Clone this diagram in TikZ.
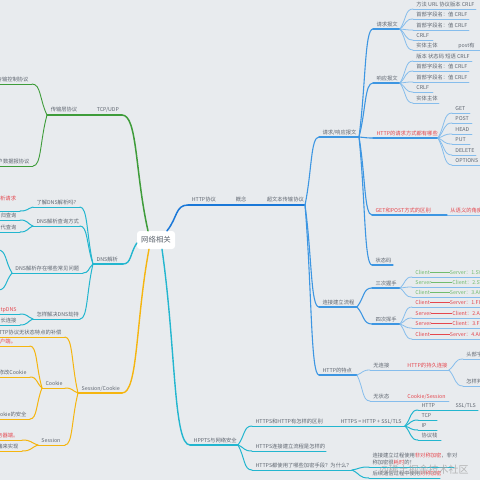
\documentclass[tikz,border=0pt]{standalone}
\usepackage{fontspec}
\newfontfamily\cjk{Noto Sans CJK SC}
\usetikzlibrary{calc}
\definecolor{paper}{HTML}{E8EBEE}
\definecolor{txgray}{HTML}{5F6670}
\definecolor{txhotc}{HTML}{E5474E}
\definecolor{txokc}{HTML}{72BC6E}
\definecolor{mmgreen}{HTML}{3E9C3A}
\definecolor{mmblue}{HTML}{1A78D8}
\definecolor{mmbluemid}{HTML}{3D96E2}
\definecolor{mmbluelt}{HTML}{86BDEC}
\definecolor{mmcyan}{HTML}{23B6CF}
\definecolor{mmorange}{HTML}{F5B50F}
\tikzset{
  tx/.style={anchor=south west,inner xsep=3pt,inner ysep=1.5pt,text depth=0.8pt,text=txgray,font=\cjk\fontsize{5.3}{7}\selectfont},
  txr/.style={tx,anchor=south east},
  txhot/.style={text=txhotc},
  txok/.style={text=txokc},
  rootbox/.style={fill=white,rounded corners=3pt,minimum width=38pt,minimum height=18pt,text=txgray,font=\cjk\fontsize{7.4}{8}\selectfont},
  mm/.style={to path={let \p1=(\tikztostart), \p2=(\tikztotarget) in
      .. controls ($(\p1)!0.5!(\p2)$) and ({\x2+0.6*(\x1-\x2)},\y2) .. (\tikztotarget)}},
  brG/.style={mmgreen,line width=1.5pt,line cap=round},
  lfG/.style={mmgreen,line width=0.9pt,line cap=round},
  brB/.style={mmblue,line width=1.5pt,line cap=round},
  midB/.style={mmbluemid,line width=1.1pt,line cap=round},
  lfB/.style={mmbluelt,line width=0.8pt,line cap=round},
  brC/.style={mmcyan,line width=1.4pt,line cap=round},
  lfC/.style={mmcyan,line width=1pt,line cap=round},
  brO/.style={mmorange,line width=1.4pt,line cap=round},
  lfO/.style={mmorange,line width=1pt,line cap=round},
}
\begin{document}
\begin{tikzpicture}[x=1pt,y=-1pt]
  \useasboundingbox (0,0) rectangle (480,480);
  \clip (0,0) rectangle (480,480);
  \fill[paper] (0,0) rectangle (480,480);
  \node[rootbox] (root) at (156,240) {网络相关};

  % ---- TCP/UDP (green) ----
  \draw[brG] (93,115) node[tx] (tcp) {TCP/UDP} -- (122,115) coordinate (tcpE);
  \draw[brG] (47,115) node[tx] (trans) {传输层协议} -- (86,115);
  \draw[brG] (86,115) -- (tcp.south west);
  \draw[brG] ([xshift=-8pt]root.north) to[mm] (tcpE);
  \draw[lfG] (-8,84) -- (32,84) coordinate (tcpL1) node[txr] {传输控制协议};
  \draw[lfG] (-8,166) -- (33,166) coordinate (tcpL2) node[txr] {用户数据报协议};
  \draw[lfG] (trans.south west) to[mm] (tcpL1);
  \draw[lfG] (trans.south west) to[mm] (tcpL2);

  % ---- HTTP (blue) ----
  \draw[brB] (188,205) node[tx] (http) {HTTP协议} -- (224,205) coordinate (httpE);
  \draw[brB] (232,205) node[tx] (concept) {概念} -- (254,205) coordinate (conceptE);
  \draw[brB] (263,205) node[tx] (hyper) {超文本传输协议} -- (305,205) coordinate (hyperE);
  \draw[brB] ([xshift=11pt]root.north) to[mm] (http.south west);
  \draw[brB] (httpE) -- (concept.south west);
  \draw[brB] (conceptE) -- (hyper.south west);

  \draw[midB] (319,137) node[tx] (reqres) {请求/响应报文} -- (359,137) coordinate (reqresE);
  \draw[midB] (319,307) node[tx] (conn) {连接建立流程} -- (357,307) coordinate (connE);
  \draw[midB] (319,375) node[tx] (feat) {HTTP的特点} -- (357,375) coordinate (featE);
  \foreach \k in {reqres,conn,feat} \draw[midB] (hyperE) to[mm] (\k.south west);

  \draw[midB] (373,29) node[tx] (reqmsg) {请求报文} -- (400,29) coordinate (reqmsgE);
  \draw[midB] (373,83) node[tx] (resmsg) {响应报文} -- (400,83) coordinate (resmsgE);
  \draw[midB] (373,138) node[tx,txhot] (meth) {HTTP的请求方式都有哪些} -- (438,138) coordinate (methE);
  \draw[midB] (372,215) node[tx,txhot] (getpost) {GET和POST方式的区别} -- (436,215) coordinate (getpostE);
  \draw[midB] (372,265) node[tx] (status) {状态码} -- (393,265);
  \foreach \k in {reqmsg,resmsg,meth,getpost,status} \draw[midB] (reqresE) to[mm] (\k.south west);
  \draw[lfB] (447,215) node[tx,txhot] (gpsem) {从语义的角度} -- (482,215);
  \draw[midB] (getpostE) -- (gpsem.south west);

  \draw[lfB] (413,9) node[tx] (rq1) {方法 URL 协议版本 CRLF} -- (476,9);
  \draw[lfB] (413,19) node[tx] (rq2) {首部字段名：值 CRLF} -- (469,19);
  \draw[lfB] (413,30) node[tx] (rq3) {首部字段名：值 CRLF} -- (469,30);
  \draw[lfB] (413,40) node[tx] (rq4) {CRLF} -- (433,40);
  \draw[lfB] (413,50) node[tx] (rq5) {实体主体} -- (446,50) coordinate (rq5E);
  \draw[lfB] (455,50) node[tx] (rq6) {post有} -- (482,50);
  \draw[lfB] (rq5E) -- (rq6.south west);
  \foreach \k in {1,...,5} \draw[lfB] (reqmsgE) to[mm] (rq\k.south west);

  \draw[lfB] (413,61) node[tx] (rs1) {版本 状态码 短语 CRLF} -- (472,61);
  \draw[lfB] (413,71) node[tx] (rs2) {首部字段名：值 CRLF} -- (469,71);
  \draw[lfB] (413,82) node[tx] (rs3) {首部字段名：值 CRLF} -- (469,82);
  \draw[lfB] (413,92) node[tx] (rs4) {CRLF} -- (433,92);
  \draw[lfB] (413,103) node[tx] (rs5) {实体主体} -- (439,103);
  \foreach \k in {1,...,5} \draw[lfB] (resmsgE) to[mm] (rs\k.south west);

  \draw[lfB] (452,113) node[tx] (mt1) {GET} -- (470,113);
  \draw[lfB] (452,123) node[tx] (mt2) {POST} -- (472,123);
  \draw[lfB] (452,134) node[tx] (mt3) {HEAD} -- (472,134);
  \draw[lfB] (452,144) node[tx] (mt4) {PUT} -- (470,144);
  \draw[lfB] (452,155) node[tx] (mt5) {DELETE} -- (476,155);
  \draw[lfB] (452,165) node[tx] (mt6) {OPTIONS} -- (480,165);
  \foreach \k in {1,...,6} \draw[lfB] (methE) to[mm] (mt\k.south west);

  % handshakes
  \draw[midB] (372,288) node[tx] (shk) {三次握手} -- (400,288) coordinate (shkE);
  \draw[midB] (372,324) node[tx] (wav) {四次挥手} -- (400,324) coordinate (wavE);
  \foreach \k in {shk,wav} \draw[midB] (connE) to[mm] (\k.south west);
  \draw[lfB] (412,277) node[tx,txok] (shk1) {Client\rule[1.8pt]{20pt}{0.45pt}Server：1.SYN} -- (482,277);
  \draw[lfB] (412,287) node[tx,txok] (shk2) {Server\rule[1.8pt]{21pt}{0.45pt}Client：2.SYN} -- (482,287);
  \draw[lfB] (412,297) node[tx,txok] (shk3) {Client\rule[1.8pt]{20pt}{0.45pt}Server：3.ACK} -- (482,297);
  \foreach \k in {1,2,3} \draw[lfB] (shkE) to[mm] (shk\k.south west);
  \draw[lfB] (412,307) node[tx,txhot] (wav1) {Client\rule[1.8pt]{20pt}{0.45pt}Server：1.FIN} -- (482,307);
  \draw[lfB] (412,318) node[tx,txhot] (wav2) {Server\rule[1.8pt]{21pt}{0.45pt}Client：2.ACK} -- (482,318);
  \draw[lfB] (412,328) node[tx,txhot] (wav3) {Server\rule[1.8pt]{21pt}{0.45pt}Client：3.FIN} -- (482,328);
  \draw[lfB] (412,339) node[tx,txhot] (wav4) {Client\rule[1.8pt]{20pt}{0.45pt}Server：4.ACK} -- (482,339);
  \foreach \k in {1,...,4} \draw[lfB] (wavE) to[mm] (wav\k.south west);

  % features
  \draw[lfB] (370,370) node[tx] (nolink) {无连接} -- (390,370) coordinate (nolinkE);
  \draw[lfB] (404,370) node[tx,txhot] (keep) {HTTP的持久连接} -- (449,370) coordinate (keepE);
  \draw[lfB] (463,359) node[tx] (keep1) {头部字段} -- (482,359);
  \draw[lfB] (463,386) node[tx] (keep2) {怎样判断} -- (482,386);
  \draw[lfB] (370,401) node[tx] (nostate) {无状态} -- (390,401) coordinate (nostateE);
  \draw[lfB] (404,401) node[tx,txhot] (cksess) {Cookie/Session} -- (449,401);
  \foreach \k in {nolink,nostate} \draw[lfB] (featE) to[mm] (\k.south west);
  \draw[lfB] (nolinkE) -- (keep.south west);
  \draw[lfB] (nostateE) -- (cksess.south west);
  \foreach \k in {keep1,keep2} \draw[lfB] (keepE) to[mm] (\k.south west);

  % ---- HTTPS (cyan) ----
  \draw[brC] (190,445) node[tx] (https) {HPPTS与网络安全} -- (238,445) coordinate (httpsE);
  \draw[brC] ([xshift=6pt]root.south) to[mm] (https.south west);
  \draw[lfC] (252,426) node[tx] (diff) {HTTPS和HTTP有怎样的区别} -- (322,426) coordinate (diffE);
  \draw[lfC] (337,426) node[tx] (ssl) {HTTPS = HTTP + SSL/TLS} -- (405,426) coordinate (sslE);
  \draw[lfC] (418,410) node[tx] (stk1) {HTTP} -- (446,410) coordinate (stk1E);
  \draw[lfC] (452,410) node[tx] (stk5) {SSL/TLS} -- (478,410);
  \draw[lfC] (418,420) node[tx] (stk2) {TCP} -- (437,420);
  \draw[lfC] (418,430) node[tx] (stk3) {IP} -- (437,430);
  \draw[lfC] (418,440) node[tx] (stk4) {协议栈} -- (441,440);
  \draw[lfC] (252,451) node[tx] (flow) {HTTPS连接建立流程是怎样的} -- (326,451);
  \draw[lfC] (252,470) node[tx] (enc) {HTTPS都使用了哪些加密手段？为什么？} -- (352,470) coordinate (encE);
  \draw[lfC] (369,467) node[tx,align=left] (asym) {连接建立过程使用\textcolor{txhotc}{非对称加密}，非对\\称加密很\textcolor{txhotc}{耗时}的！} -- (454,467);
  \draw[lfC] (369,478) node[tx] (sym) {后续通信过程中使用\textcolor{txhotc}{对称加密}} -- (440,478);
  \foreach \k in {diff,flow,enc} \draw[lfC] (httpsE) to[mm] (\k.south west);
  \draw[lfC] (diffE) -- (ssl.south west);
  \foreach \k in {1,...,4} \draw[lfC] (sslE) to[mm] (stk\k.south west);
  \draw[lfC] (stk1E) -- (stk5.south west);
  \foreach \k in {asym,sym} \draw[lfC] (encE) to[mm] (\k.south west);

  % ---- DNS (cyan) ----
  \draw[brC] (93,264) node[tx] (dns) {DNS解析} -- (123,264) coordinate (dnsE);
  \draw[brC] ([yshift=-3pt]root.west) to[mm] (dnsE);
  \draw[lfC] (33,207) node[tx] (dns1) {了解DNS解析吗?} -- (80,207) coordinate (dnsE1);
  \draw[lfC] (33,226) node[tx] (dns2) {DNS解析查询方式} -- (80,226) coordinate (dnsE2);
  \draw[lfC] (12,273) node[tx] (dns3) {DNS解析存在哪些常见问题} -- (83,273) coordinate (dnsE3);
  \draw[lfC] (33,319) node[tx] (dns4) {怎样解决DNS劫持} -- (80,319) coordinate (dnsE4);
  \foreach \k in {1,...,4} \draw[lfC] (dns.south west) to[mm] (dnsE\k);
  \draw[lfC] (-4,211) -- (20,211) coordinate (dnsL1);
  \node[tx,txhot] (dnsT1) at (-3,203) {析请求};
  \draw[lfC] (-4,220) -- (20,220) coordinate (dnsL2) node[txr] {归查询};
  \draw[lfC] (-4,232) -- (20,232) coordinate (dnsL3) node[txr] {代查询};
  \coordinate (dnsL4) at (-2,250);
  \coordinate (dnsL5) at (-2,290);
  \draw[lfC] (-4,314) -- (20,314) coordinate (dnsL6) node[txr,txhot] {tpDNS};
  \draw[lfC] (-4,325) -- (20,325) coordinate (dnsL7) node[txr] {长连接};
  \draw[lfC] (dns1.south west) to[mm] (dnsL1);
  \foreach \k in {2,3} \draw[lfC] (dns2.south west) to[mm] (dnsL\k);
  \foreach \k in {4,5} \draw[lfC] (dns3.south west) to[mm] (dnsL\k);
  \foreach \k in {6,7} \draw[lfC] (dns4.south west) to[mm] (dnsL\k);

  % ---- Session/Cookie (orange) ----
  \draw[brO] (78,393) node[tx] (sc) {Session/Cookie} -- (122,393) coordinate (scE);
  \draw[brO] ([xshift=-7pt]root.south) to[mm] (scE);
  \draw[lfO] (-4,337) -- (65,337) coordinate (scL1) node[txr] (comp) {HTTP协议无状态特点的补偿};
  \draw[lfO] (42,388) node[tx] (cookie) {Cookie} -- (65,388) coordinate (scL2);
  \draw[lfO] (38,445) node[tx] (session) {Session} -- (65,445) coordinate (scL3);
  \foreach \k in {1,2,3} \draw[lfO] (sc.south west) to[mm] (scL\k);
  \draw[lfO] (-4,346) -- (30,346) coordinate (ckL1);
  \node[tx,txhot] (ckT1) at (-3,346) {户端。};
  \draw[lfO] (-4,377) -- (30,377) coordinate (ckL2) node[txr] {修改Cookie};
  \draw[lfO] (-4,419) -- (30,419) coordinate (ckL3) node[txr] {okie的安全};
  \foreach \k in {1,2,3} \draw[lfO] (cookie.south west) to[mm] (ckL\k);
  \draw[lfO] (-4,440) -- (22,440) coordinate (ssL1) node[txr,txhot] {务器端。};
  \draw[lfO] (-4,451) -- (22,451) coordinate (ssL2) node[txr] {储来实现};
  \foreach \k in {1,2} \draw[lfO] (session.south west) to[mm] (ssL\k);

  \node[font=\cjk\fontsize{10}{10}\selectfont,text=black!35,opacity=0.8] (mark) at (424,470) {@稀土掘金技术社区};
\end{tikzpicture}
\end{document}
